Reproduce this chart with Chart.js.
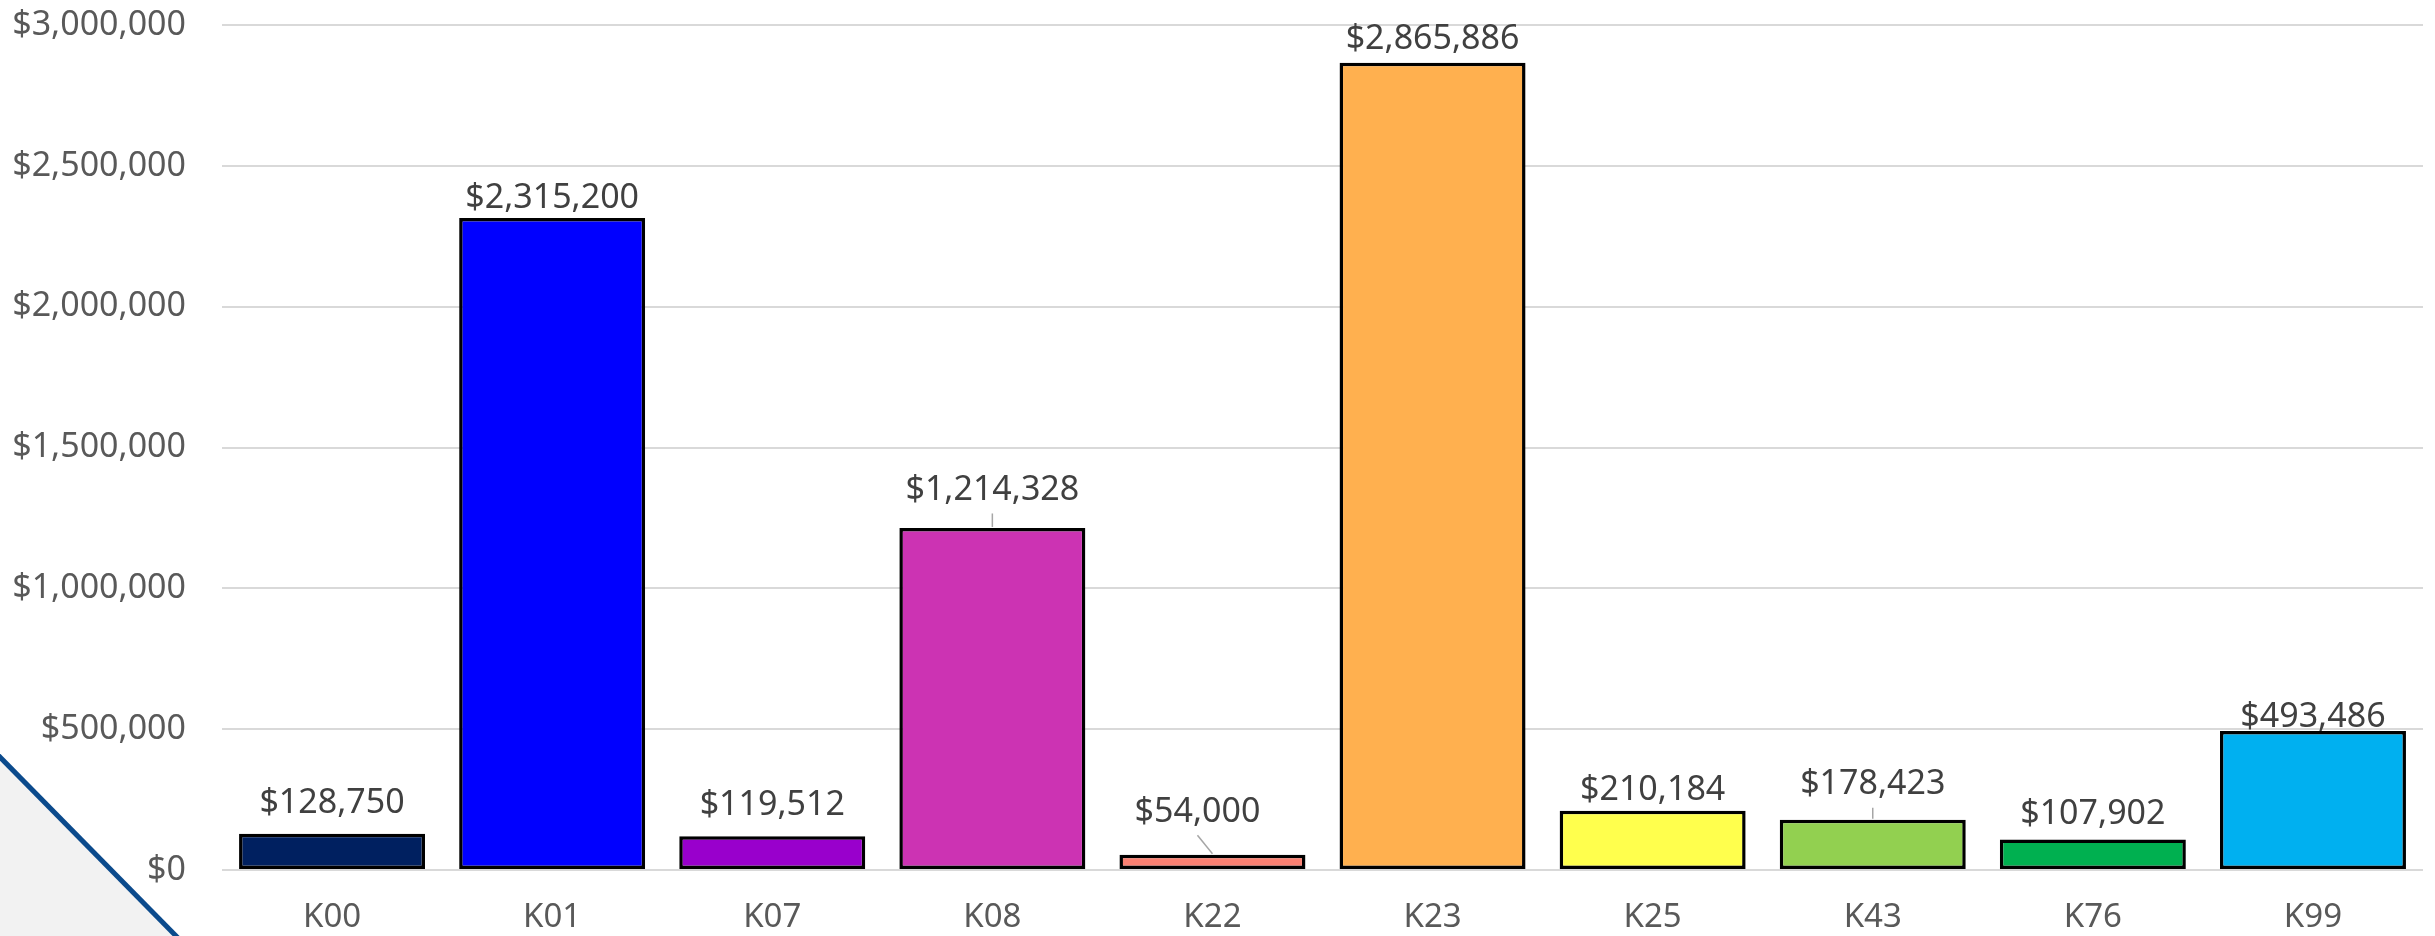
<!DOCTYPE html>
<html>
<head>
<meta charset="utf-8">
<title>Sales by code</title>
<script src="https://cdn.jsdelivr.net/npm/chart.js@4.4.1/dist/chart.umd.min.js"></script>
<style>
    html, body { margin: 0; padding: 0; background: #ffffff; }
    #wrap { width: 2435px; height: 936px; position: relative; }
</style>
</head>
<body>
<div id="wrap"><canvas id="salesChart" width="2435" height="936"></canvas></div>
<script>
// Chart data
const codes = ['K00', 'K01', 'K07', 'K08', 'K22', 'K23', 'K25', 'K43', 'K76', 'K99'];
const totals = [128750, 2315200, 119512, 1214328, 54000, 2865886, 210184, 178423, 107902, 493486];
const barColors = ['#002060', '#0000FF', '#9900CC', '#CC33B3', '#FA8072', '#FFB04F', '#FFFF4D', '#92D050', '#00B050', '#00B0F0'];
const yTicks = [0, 500000, 1000000, 1500000, 2000000, 2500000, 3000000];

const FONT = "'Noto Sans', 'DejaVu Sans', sans-serif";

/**
 * Format number as dollars
 */
function formatDollars(value) {
    return '$' + Math.round(value).toLocaleString('en-US');
}

// Light grey corner with the blue diagonal stripe (page decoration)
const cornerDecor = {
    id: 'cornerDecor',
    beforeDraw(chart) {
        const ctx = chart.ctx;
        const h = chart.height;
        ctx.save();
        ctx.fillStyle = '#F2F2F2';
        ctx.beginPath();
        ctx.moveTo(0, 757);
        ctx.lineTo(178, h);
        ctx.lineTo(0, h);
        ctx.closePath();
        ctx.fill();
        ctx.strokeStyle = '#0B4A8C';
        ctx.lineWidth = 5;
        ctx.beginPath();
        ctx.moveTo(-5, 752);
        ctx.lineTo(180, h + 4);
        ctx.stroke();
        ctx.restore();
    }
};

// Value labels above bars, some moved by hand with a leader line
const valueLabels = {
    id: 'valueLabels',
    afterDatasetsDraw(chart, args, opts) {
        const ctx = chart.ctx;
        const meta = chart.getDatasetMeta(0);
        ctx.save();
        ctx.font = opts.size + 'px ' + FONT;
        ctx.fillStyle = '#404040';
        ctx.textAlign = 'center';
        ctx.textBaseline = 'alphabetic';
        meta.data.forEach((bar, i) => {
            const dy = opts.dy[i];
            const dx = opts.dx[i];
            const cy = bar.y - dy;
            const lx = bar.x + dx;
            ctx.fillText(formatDollars(totals[i]), lx, cy + 12);
            if (opts.leader.includes(i)) {
                ctx.strokeStyle = '#A6A6A6';
                ctx.lineWidth = 1.5;
                ctx.beginPath();
                ctx.moveTo(lx, cy + 25.5);
                ctx.lineTo(bar.x, bar.y - 1);
                ctx.stroke();
            }
        });
        ctx.restore();
    }
};

const ctx = document.getElementById('salesChart').getContext('2d');

const salesChart = new Chart(ctx, {
    type: 'bar',
    data: {
        labels: codes,
        datasets: [{
            data: totals,
            backgroundColor: barColors,
            borderColor: '#000000',
            borderWidth: 3.5,
            borderSkipped: false,
            barPercentage: 0.845,
            categoryPercentage: 1.0
        }]
    },
    plugins: [cornerDecor, valueLabels],
    options: {
        responsive: false,
        animation: false,
        layout: {
            padding: { top: 25, right: 12, bottom: 0, left: 0 }
        },
        plugins: {
            legend: { display: false },
            tooltip: { enabled: false },
            valueLabels: {
                size: 34,
                dy: [33, 21.5, 33.5, 40, 45, 25.5, 23, 37.5, 27.5, 16],
                dx: [0, 0, 0, 0, -15, 0, 0, 0, 0, 0],
                leader: [3, 4, 7]
            }
        },
        scales: {
            x: {
                grid: { display: false, drawTicks: false },
                border: { display: false },
                ticks: {
                    color: '#595959',
                    padding: 28,
                    font: { family: FONT, size: 33 }
                },
                afterFit(scale) { scale.height = 66; }
            },
            y: {
                min: 0,
                max: 3000000,
                afterBuildTicks(scale) {
                    scale.ticks = yTicks.map(v => ({ value: v }));
                },
                grid: { color: '#D9D9D9', lineWidth: 2, drawTicks: false },
                border: { display: false },
                ticks: {
                    color: '#595959',
                    padding: 36,
                    font: { family: FONT, size: 34 },
                    callback: value => formatDollars(value)
                },
                afterFit(scale) {
                    scale.width = 222;
                    // keep the tick padding from pushing the plot area down
                    scale.paddingTop = 0;
                    scale.paddingBottom = 0;
                }
            }
        }
    }
});
</script>
</body>
</html>
